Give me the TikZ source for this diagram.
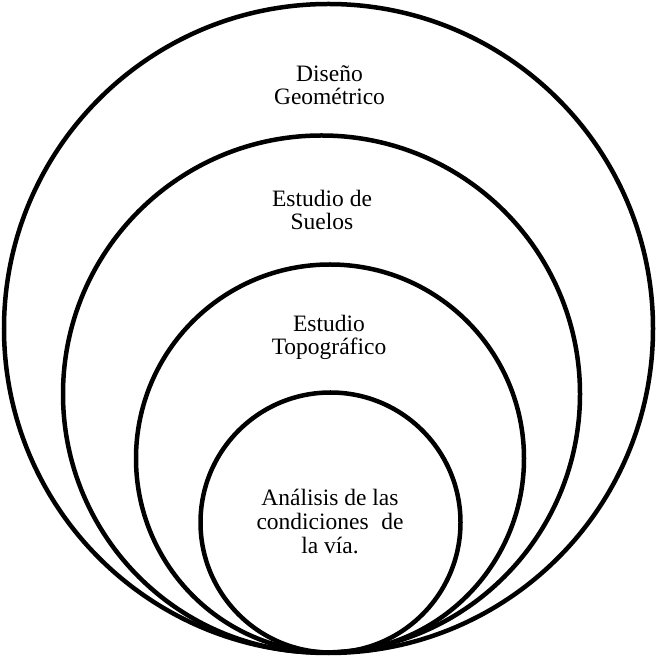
\documentclass[tikz,border=0pt]{standalone}
\usepackage{fontspec}
\setmainfont{Liberation Serif}
\tikzset{
  ring/.style={draw=black, line width=4.5pt},
  lbl/.style={anchor=base, align=center, inner sep=0pt, font=\fontsize{23.5}{23}\selectfont}
}
\begin{document}
\begin{tikzpicture}[x=1pt,y=1pt]
\useasboundingbox (0,0) rectangle (656,656);
\draw[ring] (328.5,327.5) circle (324.5);
\draw[ring] (321.5,262) circle (258.5);
\draw[ring] (330,197.5) circle (194);
\draw[ring] (330.5,133.5) circle (130);
\node[lbl] (geo) at (329.5,551) {Diseño\\Geométrico};
\node[lbl] (suelos) at (322,426) {Estudio de\\Suelos};
\node[lbl] (topo) at (329,301) {Estudio\\Topográfico};
\node[lbl, font=\fontsize{23.5}{24}\selectfont] (via) at (330,102.5) {Análisis de las\\\makebox[147pt][s]{condiciones de}\\la vía.};
\end{tikzpicture}
\end{document}
